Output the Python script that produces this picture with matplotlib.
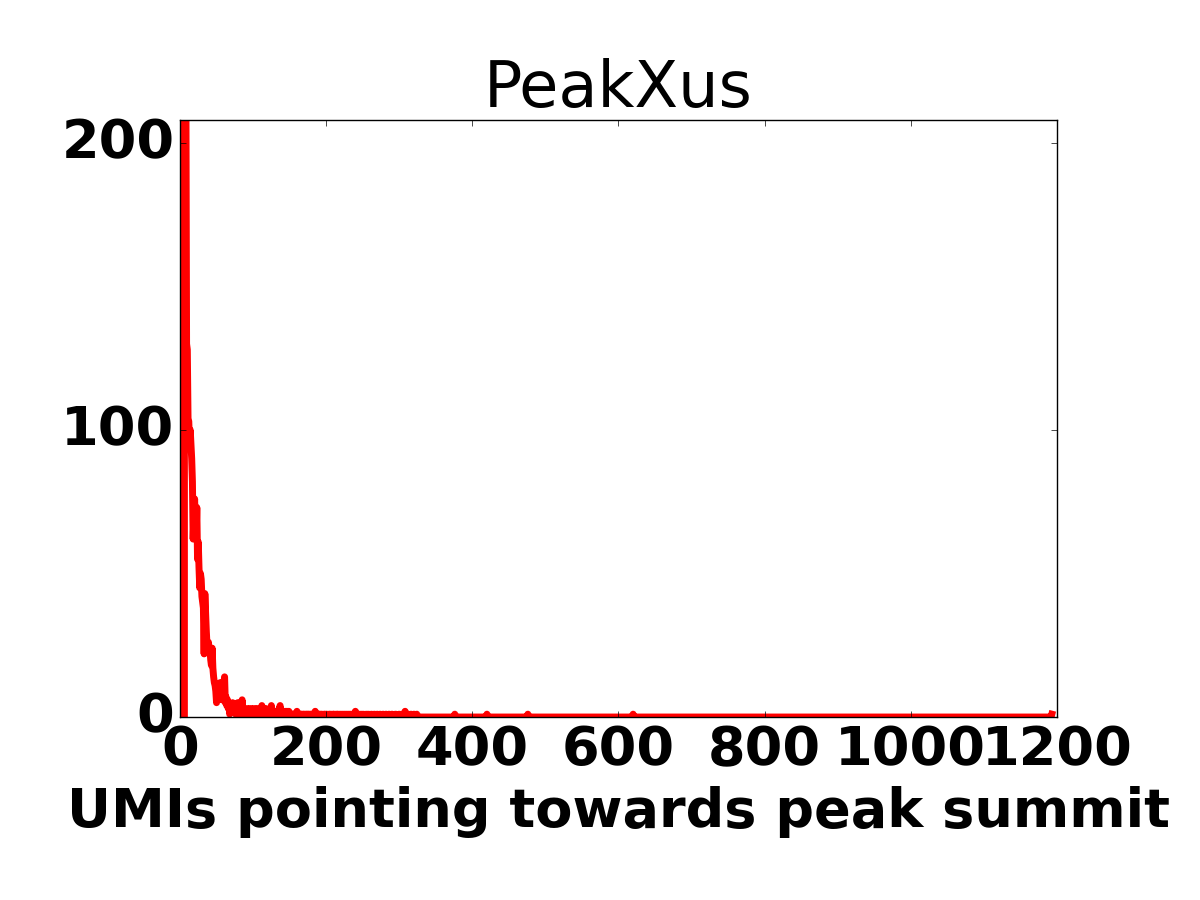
import numpy as np
import matplotlib
matplotlib.use('Agg')
import matplotlib.pyplot as plt

plt.style.use('classic')

# histogram of peaks: number of peaks (y) with a given UMI count (x)
n_bins = 1194

# counts for x = 0 .. 150
head_counts = [
    0, 0, 0, 0, 0, 0, 0, 3000, 230, 130,
    128, 104, 103, 96, 100, 95, 90, 82, 62, 70,
    76, 66, 62, 73, 55, 61, 52, 45, 50, 48,
    42, 40, 38, 22, 43, 36, 30, 25, 23, 26,
    22, 24, 20, 18, 24, 17, 14, 12, 11, 9,
    5, 10, 8, 11, 7, 12, 9, 6, 8, 10,
    11, 14, 5, 7, 4, 6, 3, 5, 1, 4,
    3, 2, 5, 3, 2, 4, 1, 3, 2, 5,
    2, 1, 4, 3, 2, 6, 1, 2, 1, 3,
    1, 2, 1, 2, 3, 1, 2, 1, 2, 3,
    1, 2, 1, 2, 3, 1, 2, 1, 2, 3,
    1, 2, 4, 1, 2, 1, 2, 3, 1, 2,
    1, 2, 1, 3, 1, 4, 2, 1, 2, 1,
    2, 1, 2, 1, 2, 1, 3, 4, 1, 2,
    1, 2, 1, 2, 1, 2, 1, 2, 1, 2,
    1,
]

# sparse tail: UMI counts seen once / twice
ones_x = [151, 153, 154, 156, 158, 159, 161, 163, 165, 166, 168, 170, 172,
          174, 175, 177, 179, 181, 183, 186, 188, 190, 192, 194, 197, 199,
          201, 204, 206, 209, 211, 214, 216, 219, 222, 225, 228, 231, 234,
          237, 242, 245, 248, 251, 255, 258, 262, 266, 270, 274, 278, 282,
          286, 290, 295, 300, 304, 312, 316, 320, 324,
          376, 420, 476, 620, 1193]
twos_x = [160, 185, 240, 308]

umis = np.arange(n_bins)
counts = np.zeros(n_bins)
counts[:len(head_counts)] = head_counts
counts[ones_x] = 1
counts[twos_x] = 2

fig = plt.figure(figsize=(12, 9), dpi=100)
fig.patch.set_facecolor('white')
ax = fig.add_axes([0.15, 0.2033, 0.7308, 0.6633])

ax.plot(umis, counts, color='r', lw=5)

ax.set_xlim(0, 1200)
ax.set_ylim(0, 208)
ax.set_xticks([0, 200, 400, 600, 800, 1000, 1200])
ax.set_yticks([0, 100, 200])
ax.tick_params(axis='x', pad=5)

for lab in ax.get_xticklabels() + ax.get_yticklabels():
    lab.set_fontsize(39)
    lab.set_fontweight('bold')

ax.set_title('PeakXus', fontsize=46, y=1.01)
ax.set_xlabel('UMIs pointing towards peak summit', fontsize=39,
              fontweight='bold', labelpad=7)

fig.savefig('out.png', dpi=100, facecolor='white')
